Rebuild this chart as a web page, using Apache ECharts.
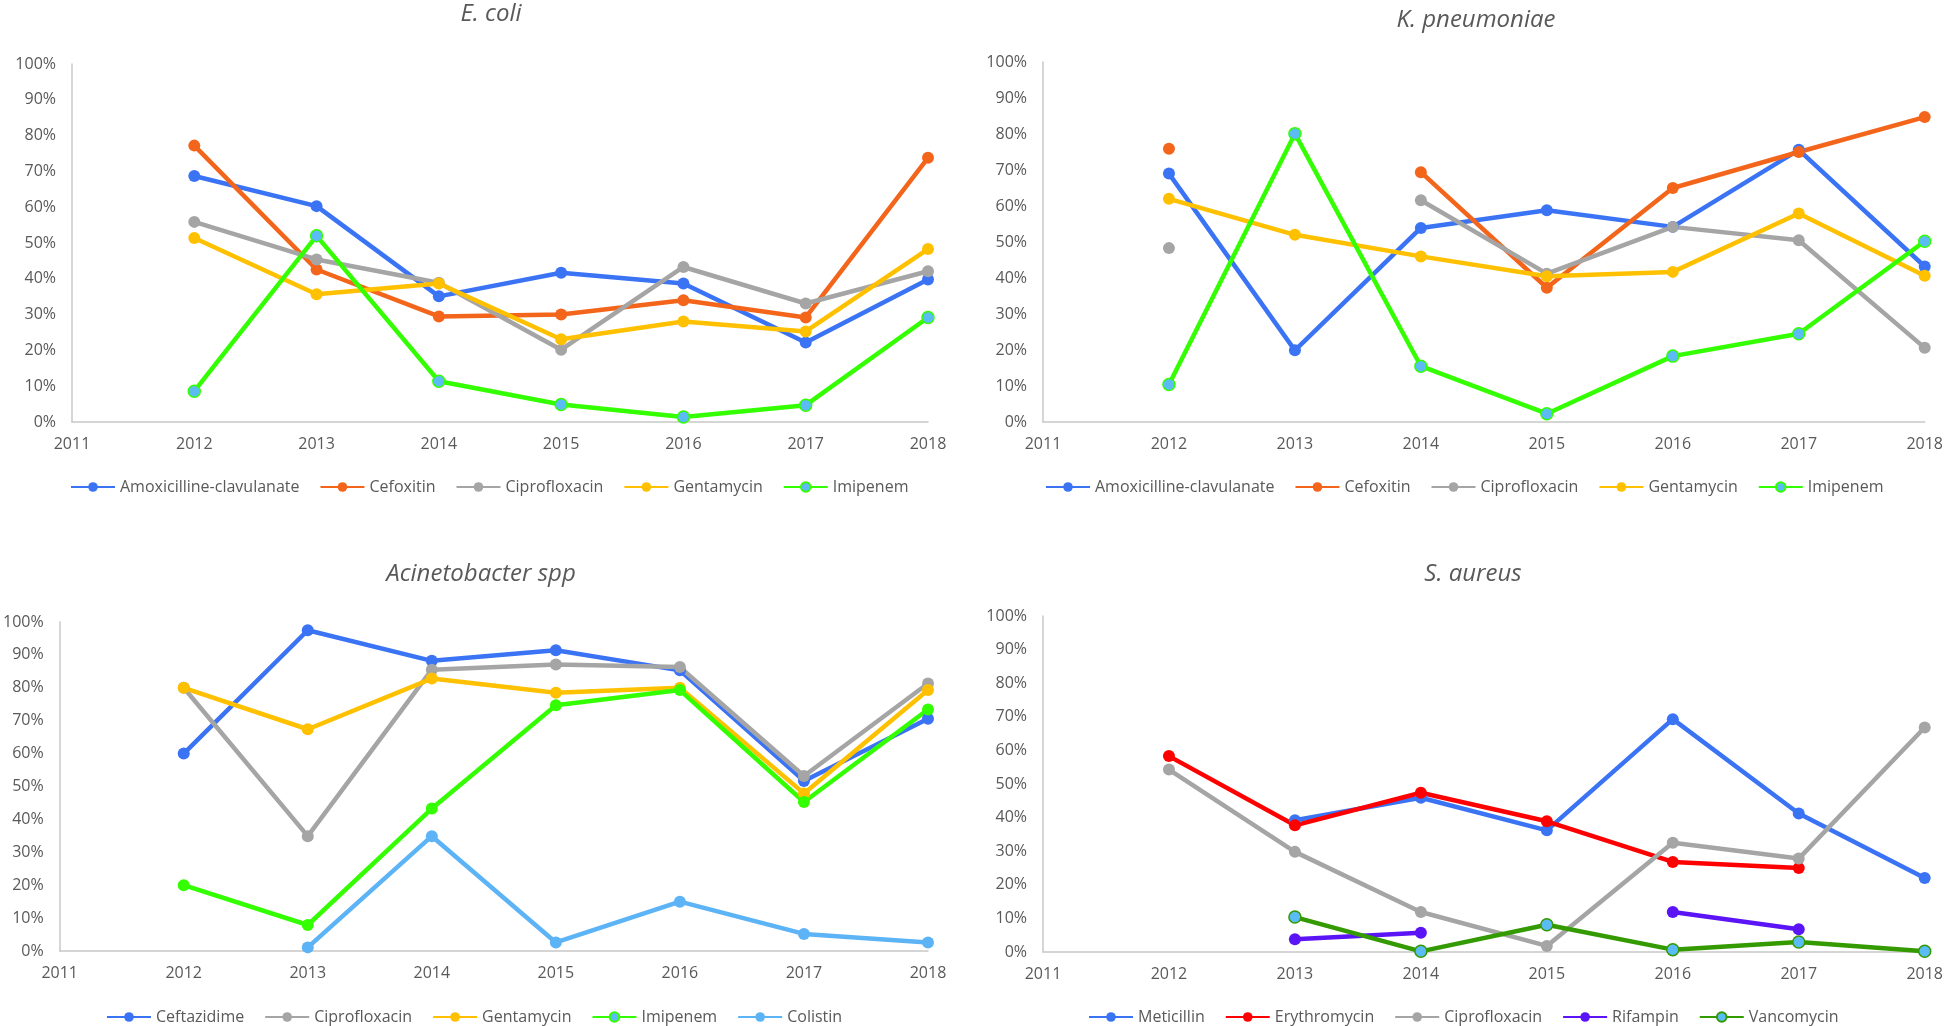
<!DOCTYPE html>
<html><head><meta charset="utf-8">
<script src="https://cdn.jsdelivr.net/npm/echarts@6/dist/echarts.min.js"></script>
<style>html,body{margin:0;padding:0;background:#fff}#c{width:1946px;height:1026px}</style>
</head><body><div id="c"></div>
<script>
// ---- data ----
const years = ['2011','2012','2013','2014','2015','2016','2017','2018'];
const yTicks = [0,10,20,30,40,50,60,70,80,90,100];

const titles = ['E. coli','K. pneumoniae','Acinetobacter spp','S. aureus'];

// E. coli
const ecoliNames = ['Amoxicilline-clavulanate','Cefoxitin','Ciprofloxacin','Gentamycin','Imipenem'];
const ecoliAmox  = [null,68.7,60.3,35.1,41.7,38.7,22.2,39.8];
const ecoliCefox = [null,77.2,42.6,29.5,30.0,34.0,29.2,73.8];
const ecoliCipro = [null,55.9,45.4,38.9,20.2,43.3,33.1,42.1];
const ecoliGenta = [null,51.4,35.7,38.7,23.1,28.1,25.3,48.3];
const ecoliImipe = [null,8.6,52.0,11.4,4.9,1.4,4.7,29.2];

// K. pneumoniae
const kpnNames = ['Amoxicilline-clavulanate','Cefoxitin','Ciprofloxacin','Gentamycin','Imipenem'];
const kpnAmox  = [null,69.0,19.9,53.9,58.8,54.2,75.6,43.2];
const kpnCefox = [null,75.9,null,69.4,37.3,65.0,75.0,84.7];
const kpnCipro = [null,48.3,null,61.6,41.2,54.2,50.5,20.6];
const kpnGenta = [null,62.0,52.0,46.0,40.5,41.7,57.9,40.6];
const kpnImipe = [null,10.4,80.1,15.5,2.3,18.3,24.5,50.2];

// Acinetobacter spp
const acinNames = ['Ceftazidime','Ciprofloxacin','Gentamycin','Imipenem','Colistin'];
const acinCefta = [null,60.0,97.5,88.2,91.4,85.3,51.7,70.6];
const acinCipro = [null,80.0,34.9,85.5,87.1,86.3,53.2,81.3];
const acinGenta = [null,80.0,67.4,82.8,78.5,80.0,47.9,79.3];
const acinImipe = [null,20.0,7.9,43.3,74.7,79.3,45.3,73.4];
const acinColis = [null,null,1.1,34.9,2.6,15.0,5.2,2.6];

// S. aureus
const saNames = ['Meticillin','Erythromycin','Ciprofloxacin','Rifampin','Vancomycin'];
const saMeti  = [null,null,39.2,45.9,36.2,69.3,41.2,22.0];
const saEryth = [null,58.3,37.7,47.4,38.9,26.8,25.0,null];
const saCipro = [null,54.3,29.8,11.9,1.8,32.5,27.8,66.8];
const saRifam = [null,null,3.8,5.7,null,11.9,6.8,null];
const saVanco = [null,null,10.4,0.2,8.1,0.7,3.0,0.2];

// ---- styles ----
const BLUE='#3B73F5', ORANGE='#F4651C', GRAY='#A5A5A5', YELLOW='#FFC000', GREEN='#33FF00',
      LBLUE='#5BBCF5', COLIS='#5CB3F6', RED='#FF0000', PURPLE='#5A14F5', DGREEN='#339A00';
const FONT='Open Sans';
const TXT='#595959';

const panels = [
  {names: ecoliNames, data:[ecoliAmox,ecoliCefox,ecoliCipro,ecoliGenta,ecoliImipe],
   line:[BLUE,ORANGE,GRAY,YELLOW,GREEN], fill:[BLUE,ORANGE,GRAY,YELLOW,LBLUE],
   grid:{left:72,top:64,width:856,height:358}, titleX:486, titleY:-3, legendY:479, legendX:70},
  {names: kpnNames, data:[kpnAmox,kpnCefox,kpnCipro,kpnGenta,kpnImipe],
   line:[BLUE,ORANGE,GRAY,YELLOW,GREEN], fill:[BLUE,ORANGE,GRAY,YELLOW,LBLUE],
   grid:{left:1043,top:62,width:884,height:360}, titleX:1471, titleY:3, legendY:479, legendX:1045},
  {names: acinNames, data:[acinCefta,acinCipro,acinGenta,acinImipe,acinColis],
   line:[BLUE,GRAY,YELLOW,GREEN,COLIS], fill:[BLUE,GRAY,YELLOW,GREEN,COLIS],
   grid:{left:57,top:622,width:871,height:329}, titleX:476, titleY:557, legendY:1009, legendX:106},
  {names: saNames, data:[saMeti,saEryth,saCipro,saRifam,saVanco],
   line:[BLUE,RED,GRAY,PURPLE,DGREEN], fill:[BLUE,RED,GRAY,PURPLE,LBLUE],
   grid:{left:1043,top:616,width:884,height:336}, titleX:1468, titleY:557, legendY:1009, legendX:1088}
];

const option = {animation:false, backgroundColor:'#fff',
  title:[], legend:[], grid:[], xAxis:[], yAxis:[], series:[]};

panels.forEach((p,i)=>{
  option.title.push({text:titles[i], left:p.titleX, top:p.titleY, textAlign:'center',
    textStyle:{fontFamily:FONT, fontStyle:'italic', fontWeight:'normal', fontSize:24, color:TXT}});
  option.grid.push(Object.assign({containLabel:false}, p.grid));
  option.xAxis.push({type:'category', gridIndex:i, data:years, boundaryGap:false,
    axisLine:{lineStyle:{color:'#C8C8C8', width:1.5}}, axisTick:{show:false},
    axisLabel:{fontFamily:FONT, fontSize:16, color:TXT, margin:14}, splitLine:{show:false}});
  option.yAxis.push({type:'value', gridIndex:i, min:0, max:100, interval:10,
    axisLine:{show:true, lineStyle:{color:'#C8C8C8', width:1.5}}, axisTick:{show:false},
    axisLabel:{fontFamily:FONT, fontSize:16, color:TXT, margin:16, formatter:'{value}%'},
    splitLine:{show:false}});
  option.legend.push({left:p.legendX, top:p.legendY, width:900, orient:'horizontal', padding:0,
    data:p.names.map(n=>({name:n})), itemWidth:44, itemHeight:12, itemGap:20,
    textStyle:{fontFamily:FONT, fontSize:16, color:TXT}});
  p.names.forEach((n,k)=>{
    const lightMarker = p.fill[k]!==p.line[k];
    option.series.push({type:'line', name:n, xAxisIndex:i, yAxisIndex:i,
      data:p.data[k], connectNulls:false, symbol:'circle', symbolSize:12, showAllSymbol:true,
      lineStyle:{color:p.line[k], width:4.5},
      itemStyle:{color:p.fill[k], borderColor:p.line[k], borderWidth:lightMarker?1.5:0},
      emphasis:{disabled:true}});
  });
});

const chart = echarts.init(document.getElementById('c'), null, {renderer:'canvas'});
chart.setOption(option);
</script>
</body></html>
